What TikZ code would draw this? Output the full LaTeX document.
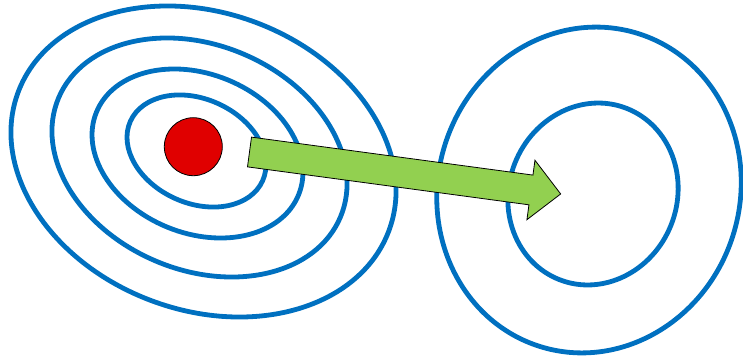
\documentclass[tikz,border=0pt]{standalone}
\usetikzlibrary{calc}
\definecolor{ringblue}{HTML}{0070C0}
\definecolor{arrowgreen}{HTML}{92D050}
\definecolor{dotred}{HTML}{E00000}
\tikzset{
  ring/.style={draw=ringblue, line width=4.8pt},
  bigarrow/.style={draw=black, fill=arrowgreen, line width=0.8pt, line join=miter},
  dot/.style={circle, draw=black, fill=dotred, line width=0.8pt, minimum size=58pt, inner sep=0pt}
}
\begin{document}
\begin{tikzpicture}[x=1pt,y=-1pt]
\useasboundingbox (0,0) rectangle (743,361);
% left contours
\draw[ring, rotate around={-20.5:(203.5,161.5)}] (203.5,161.5) ellipse [x radius=197.9, y radius=148.6];
\draw[ring, rotate around={-23.0:(199.5,157.5)}] (199.5,157.5) ellipse [x radius=153.0, y radius=112.4];
\draw[ring, rotate around={-22.3:(197.5,153.5)}] (197.5,153.5) ellipse [x radius=109.2, y radius=79.6];
\draw[ring, rotate around={-24.2:(196.5,151)}] (196.5,151) ellipse [x radius=72.5, y radius=52.1];
% right contours
\draw[ring, rotate around={72.6:(589,190)}] (589,190) ellipse [x radius=164, y radius=151];
\draw[ring, rotate around={68.3:(593,194)}] (593,194) ellipse [x radius=92, y radius=84];
% red source
\node[dot] (src) at (193.3,146.7) {};
% green arrow
\begin{scope}[shift={(249.5,152)}, rotate=-7.68]
\draw[bigarrow] (0,-15) -- (284,-15) -- (284,-30) -- (314,0) -- (284,30) -- (284,15) -- (0,15) -- cycle;
\end{scope}
\end{tikzpicture}
\end{document}
